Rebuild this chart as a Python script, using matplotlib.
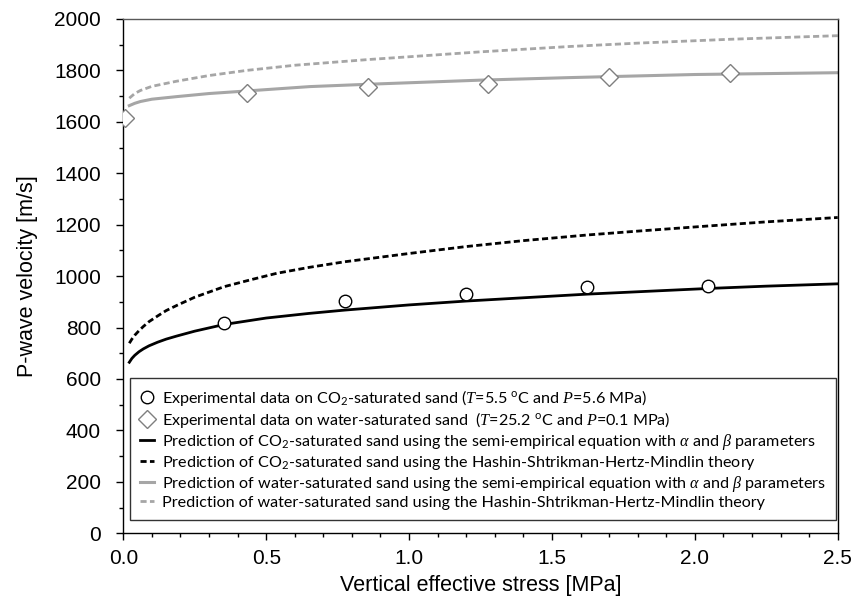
import matplotlib
matplotlib.use("Agg")
import matplotlib.pyplot as plt
from matplotlib.ticker import MultipleLocator, FormatStrFormatter

plt.rcParams['font.family'] = ['Liberation Sans', 'DejaVu Sans']
plt.rcParams['mathtext.fontset'] = 'custom'
plt.rcParams['mathtext.rm'] = 'Lato'
plt.rcParams['mathtext.it'] = 'Liberation Serif:italic'

# experimental points
co2_x = [0.353, 0.776, 1.199, 1.624, 2.047]
co2_v = [817, 903, 931, 957, 961]
water_x = [0.006, 0.432, 0.855, 1.277, 1.701, 2.123]
water_v = [1616, 1713, 1737, 1746, 1773, 1791]

# predictions
co2_se_x = [0.021, 0.03, 0.04, 0.055, 0.07, 0.09, 0.12, 0.15, 0.187, 0.25, 0.353, 0.5,
            0.65, 0.776, 1.0, 1.199, 1.624, 2.047, 2.25, 2.5]
co2_se_v = [665, 680, 692, 706, 717, 729, 743, 755, 767, 786, 812, 837,
            855, 868, 888, 903, 930, 952, 961, 970]
co2_hs_x = [0.021, 0.03, 0.04, 0.055, 0.07, 0.09, 0.12, 0.15, 0.187, 0.25, 0.353, 0.45,
            0.537, 0.65, 0.776, 1.0, 1.2, 1.4, 1.624, 1.8, 2.047, 2.25, 2.5]
co2_hs_v = [739, 755, 770, 788, 804, 823, 845, 866, 886, 918, 959, 987,
            1011, 1034, 1056, 1088, 1115, 1138, 1160, 1175, 1195, 1211, 1228]
w_se_x = [0.021, 0.04, 0.06, 0.1, 0.187, 0.3, 0.432, 0.653, 0.855, 1.248, 1.563, 2.0, 2.5]
w_se_v = [1663, 1672, 1679, 1688, 1698, 1710, 1720, 1737, 1746, 1762, 1772, 1784, 1791]
w_hs_x = [0.021, 0.04, 0.06, 0.1, 0.187, 0.3, 0.432, 0.6, 0.855, 1.0, 1.248, 1.563,
          1.8, 2.123, 2.5]
w_hs_v = [1692, 1710, 1722, 1738, 1758, 1780, 1800, 1820, 1842, 1853, 1872, 1893,
          1906, 1921, 1935]

labels = [
    r'Experimental data on CO$_2$-saturated sand ($T$=5.5 $^{\mathrm{o}}$C and $P$=5.6 MPa)',
    r'Experimental data on water-saturated sand  ($T$=25.2 $^{\mathrm{o}}$C and $P$=0.1 MPa)',
    r'Prediction of CO$_2$-saturated sand using the semi-empirical equation with $\alpha$ and $\beta$ parameters',
    r'Prediction of CO$_2$-saturated sand using the Hashin-Shtrikman-Hertz-Mindlin theory',
    r'Prediction of water-saturated sand using the semi-empirical equation with $\alpha$ and $\beta$ parameters',
    r'Prediction of water-saturated sand using the Hashin-Shtrikman-Hertz-Mindlin theory',
]

fig = plt.figure(figsize=(8.51, 6.0), dpi=100)
ax = fig.add_axes([0.1449, 0.1112, 0.8395, 0.8572])

light = '#a6a6a6'
ax.plot(co2_x, co2_v, 'o', ms=9, mfc='white', mec='black', mew=1.0, label=labels[0], zorder=5)
ax.plot(water_x, water_v, 'D', ms=9, mfc='white', mec='#7f7f7f', mew=1.0, label=labels[1], zorder=5)
ax.plot(co2_se_x, co2_se_v, '-', color='black', lw=2, label=labels[2])
ax.plot(co2_hs_x, co2_hs_v, '--', color='black', lw=2, dashes=(2.2, 1.2), label=labels[3])
ax.plot(w_se_x, w_se_v, '-', color=light, lw=2.2, label=labels[4])
ax.plot(w_hs_x, w_hs_v, '--', color=light, lw=2, dashes=(2.2, 1.2), label=labels[5])

ax.set_xlim(0, 2.5)
ax.set_ylim(0, 2000)
ax.xaxis.set_major_locator(MultipleLocator(0.5))
ax.xaxis.set_minor_locator(MultipleLocator(0.1))
ax.yaxis.set_major_locator(MultipleLocator(200))
ax.yaxis.set_minor_locator(MultipleLocator(100))
ax.xaxis.set_major_formatter(FormatStrFormatter('%.1f'))
ax.tick_params(which='major', direction='out', length=5, width=1, labelsize=15)
ax.tick_params(axis='x', which='major', pad=6)
ax.tick_params(axis='y', which='major', pad=11)
ax.tick_params(which='minor', direction='out', length=3, width=1)
ax.tick_params(top=False, right=False, which='both')
for s in ax.spines.values():
    s.set_linewidth(1)
    s.set_color('black')
ax.spines['top'].set_color('#595959')

ax.set_xlabel('Vertical effective stress [MPa]', fontsize=15.5, labelpad=5)
ax.set_ylabel('P-wave velocity [m/s]', fontsize=15.5, labelpad=12)

leg = ax.legend(loc='upper left', bbox_to_anchor=(0.0094, 0.301), borderaxespad=0,
                prop={'family': 'Lato', 'size': 11.6}, frameon=True, fancybox=False,
                edgecolor='black', handlelength=0.9, handletextpad=0.5,
                labelspacing=0.12, borderpad=0.6)
leg.get_frame().set_linewidth(1)

fig.savefig('out.png', dpi=100)
